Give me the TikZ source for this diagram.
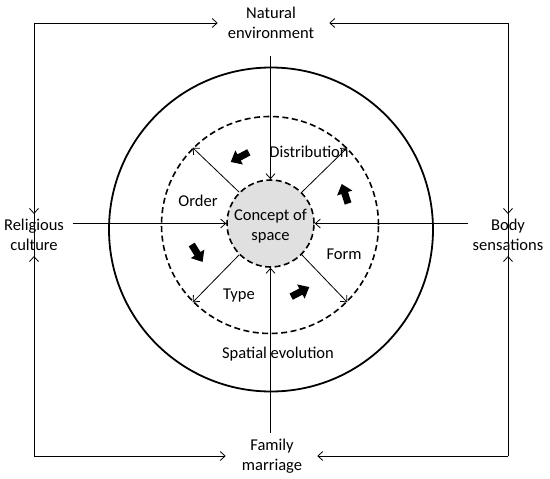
\documentclass[tikz,border=0pt]{standalone}
\usepackage{fontspec}
\setmainfont{Carlito}
\usetikzlibrary{arrows.meta}
\begin{document}
\begin{tikzpicture}[x=1pt,y=-1pt,
  lbl/.style={font=\fontsize{16.5}{20}\selectfont, align=center, inner sep=0pt},
  thinarrow/.style={line width=0.8pt, -{Straight Barb[length=5pt,width=9pt]}},
  thinline/.style={line width=0.8pt},
  dashring/.style={circle, draw, line width=1.6pt, dash pattern=on 6pt off 3.5pt, inner sep=0pt},
  fatarrow/.pic={\fill[black] (-10,-3.5) -- (1,-3.5) -- (1,-8) -- (10.5,0) -- (1,8) -- (1,3.5) -- (-10,3.5) -- cycle;}
]
\useasboundingbox (0,0) rectangle (550,479);
% rings
\node[circle, draw, line width=1.8pt, minimum size=324pt, inner sep=0pt] (outer) at (271,229.5) {};
\node[dashring, minimum size=217pt] (mid) at (270,225) {};
\node[dashring, minimum size=87pt, fill=black!12] (concept) at (270.5,223.5) {};
\node[lbl] (ctext) at (270.5,226) {Concept of\\space};
% outer labels
\node[lbl] (nat) at (271,23) {Natural\\environment};
\node[lbl] (fam) at (272,456) {Family\\marriage};
\node[lbl] (rel) at (34,235) {Religious\\culture};
\node[lbl] (body) at (508,235) {Body\\sensations};
% inner labels
\node[lbl] (dist) at (309,152) {Distribution};
\node[lbl] (order) at (198,201) {Order};
\node[lbl] (form) at (344,254) {Form};
\node[lbl] (type) at (239,296) {Type};
\node[lbl] (evol) at (278,354) {Spatial evolution};
% corner coordinates
\coordinate (c1) at (34,23);
\coordinate (c2) at (508,23);
\coordinate (c3) at (34,456);
\coordinate (c4) at (508,456);
\path (nat.south) ++(0,17) coordinate (n1);
\path (fam.north) ++(0,-6) coordinate (f1);
\path (rel.east) ++(9,0) coordinate (r1);
\path (body.west) ++(-5,0) coordinate (b1);
% connectors to the centre
\draw[thinarrow] (concept.north |- n1) -- (concept.north);
\draw[thinarrow] (concept.south |- f1) -- (concept.south);
\draw[thinarrow] (r1 |- concept.west) -- (concept.west);
\draw[thinarrow] (b1 |- concept.east) -- (concept.east);
% frame arrows
\draw[thinarrow] (c1) -- ([xshift=-10pt]nat.west);
\draw[thinarrow] (c2) -- ([xshift=15pt]nat.east);
\draw[thinarrow] (c3) -- ([xshift=-16pt]fam.west);
\draw[thinarrow] (c4) -- ([xshift=15pt]fam.east);
\draw[thinline] (c1) -- (c3);
\draw[thinline] (c2) -- (c4);
\draw[thinarrow] (c1) -- ([yshift=5pt]rel.north);
\draw[thinarrow] (c3) -- ([yshift=-5pt]rel.south);
\draw[thinarrow] (c2) -- ([yshift=5pt]body.north);
\draw[thinarrow] (c4) -- ([yshift=-5pt]body.south);
% diagonal arrows
\draw[thinarrow] (concept.135) -- (mid.135);
\draw[thinarrow] (concept.45) -- (mid.45);
\draw[thinarrow] (concept.225) -- (mid.225);
\draw[thinarrow] (concept.-45) -- (mid.-45);
% rotation arrows
\pic[rotate=208] at (240,157) {fatarrow};
\pic[rotate=302] at (197,253) {fatarrow};
\pic[rotate=28] at (300,292) {fatarrow};
\pic[rotate=108] at (345,194) {fatarrow};
\end{tikzpicture}
\end{document}
